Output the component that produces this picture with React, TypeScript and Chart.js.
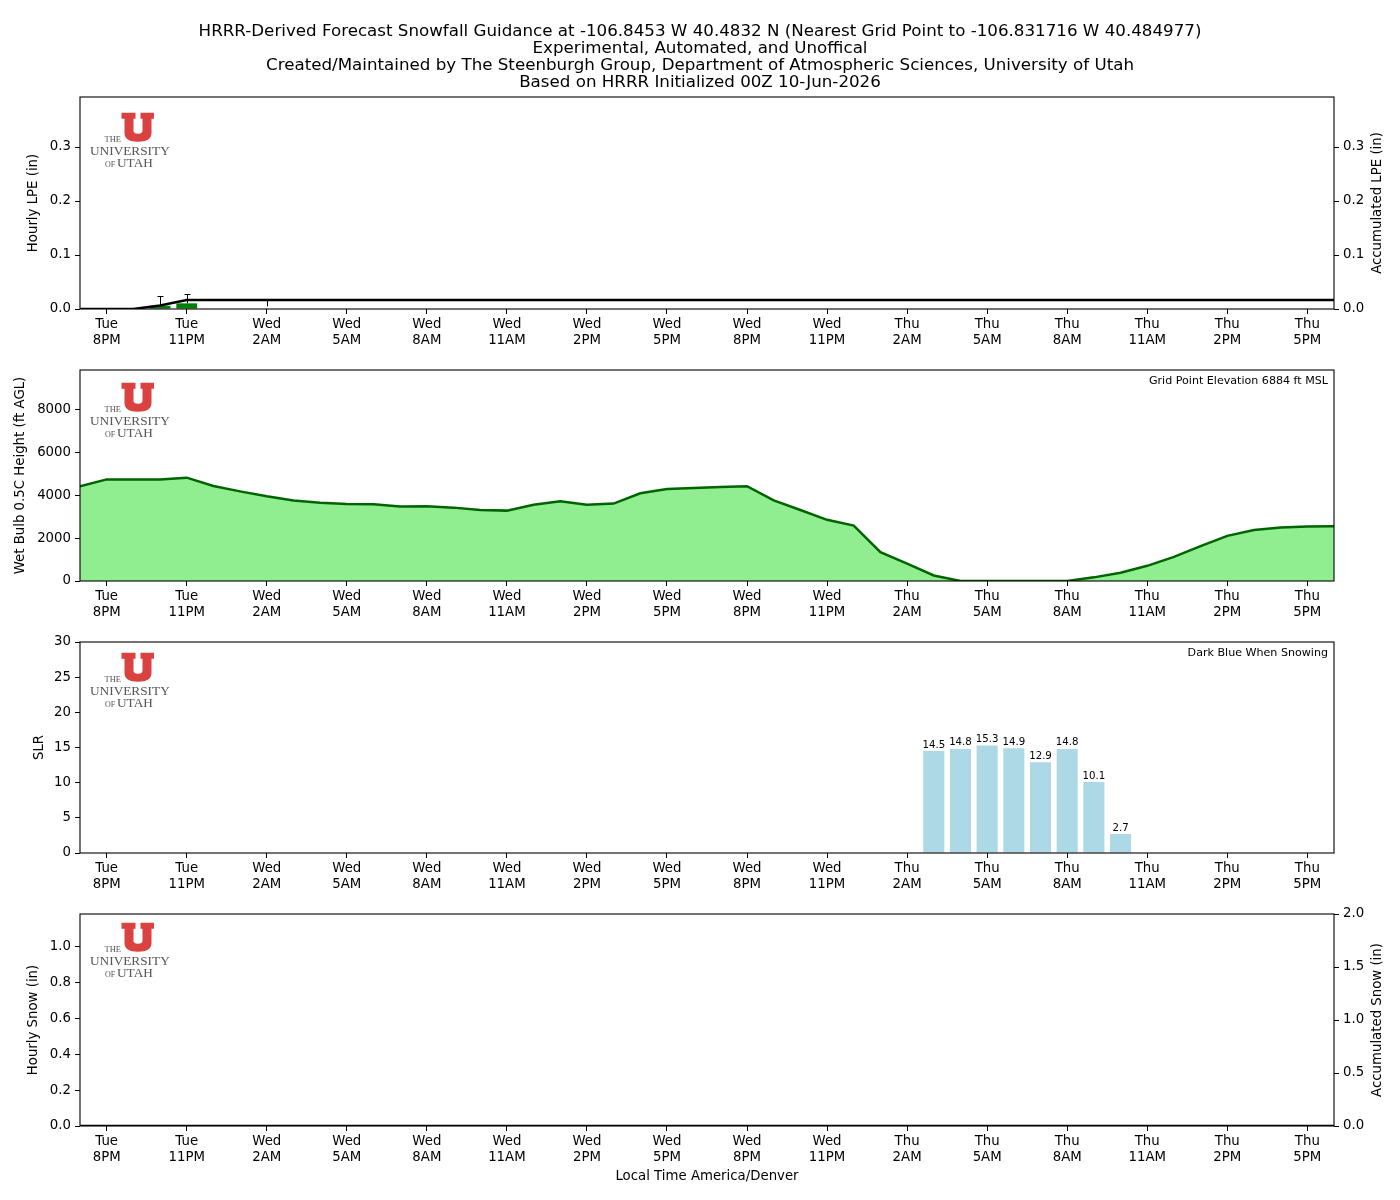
import React, { useEffect, useRef } from 'react';
import { Chart, registerables } from 'chart.js';

Chart.register(...registerables);
Chart.defaults.font.family = "'DejaVu Sans', sans-serif";
Chart.defaults.color = '#000';

// ---------- DATA ----------
// forecast hours, 0 = Tue 7PM local ... 47 = Thu 6PM local
const HOURS = Array.from({ length: 48 }, (_, i) => i);

const TICK_HOURS = [1, 4, 7, 10, 13, 16, 19, 22, 25, 28, 31, 34, 37, 40, 43, 46];
const TICK_DAYS = ['Tue', 'Tue', 'Wed', 'Wed', 'Wed', 'Wed', 'Wed', 'Wed', 'Wed', 'Wed', 'Thu', 'Thu', 'Thu', 'Thu', 'Thu', 'Thu'];
const TICK_TIMES = ['8PM', '11PM', '2AM', '5AM', '8AM', '11AM', '2PM', '5PM', '8PM', '11PM', '2AM', '5AM', '8AM', '11AM', '2PM', '5PM'];

const TITLE_LINES = [
  'HRRR-Derived Forecast Snowfall Guidance at -106.8453 W 40.4832 N (Nearest Grid Point to -106.831716 W 40.484977)',
  'Experimental, Automated, and Unoffical',
  'Created/Maintained by The Steenburgh Group, Department of Atmospheric Sciences, University of Utah',
  'Based on HRRR Initialized 00Z 10-Jun-2026',
];

const HOURLY_LPE = [
  0, 0, 0, 0.006, 0.0105, 0, 0, 0, 0, 0, 0, 0, 0, 0, 0, 0, 0, 0, 0, 0, 0, 0, 0, 0,
  0, 0, 0, 0, 0, 0, 0, 0, 0, 0, 0, 0, 0, 0, 0, 0, 0, 0, 0, 0, 0, 0, 0, 0,
];
const ACCUM_LPE = [
  0, 0, 0, 0.0065, 0.0165, 0.0165, 0.0165, 0.0165, 0.0165, 0.0165, 0.0165, 0.0165, 0.0165, 0.0165, 0.0165, 0.0165,
  0.0165, 0.0165, 0.0165, 0.0165, 0.0165, 0.0165, 0.0165, 0.0165, 0.0165, 0.0165, 0.0165, 0.0165, 0.0165, 0.0165, 0.0165, 0.0165,
  0.0165, 0.0165, 0.0165, 0.0165, 0.0165, 0.0165, 0.0165, 0.0165, 0.0165, 0.0165, 0.0165, 0.0165, 0.0165, 0.0165, 0.0165, 0.0165,
];
const LPE_ERR_HOURS = [3, 4, 7];
const LPE_ERR_LOW = [0.006, 0.0105, 0.005];
const LPE_ERR_HIGH = [0.025, 0.028, 0.017];
const LPE_TICKS = [0, 0.1, 0.2, 0.3];

const WETBULB_HEIGHT = [
  4430, 4750, 4750, 4740, 4830, 4440, 4190, 3960, 3760, 3660, 3600, 3590, 3480, 3490, 3430, 3320,
  3290, 3560, 3730, 3560, 3620, 4100, 4300, 4350, 4390, 4430, 3770, 3320, 2860, 2590, 1350, 810,
  260, 0, 0, 0, 0, 0, 170, 390, 710, 1130, 1630, 2110, 2380, 2500, 2550, 2560,
];
const WETBULB_TICKS = [0, 2000, 4000, 6000, 8000];
const ELEVATION_NOTE = 'Grid Point Elevation 6884 ft MSL';

const SLR = [
  null, null, null, null, null, null, null, null, null, null, null, null, null, null, null, null,
  null, null, null, null, null, null, null, null, null, null, null, null, null, null, null, null,
  14.5, 14.8, 15.3, 14.9, 12.9, 14.8, 10.1, 2.7, null, null, null, null, null, null, null, null,
];
const SLR_TICKS = [0, 5, 10, 15, 20, 25, 30];
const SLR_NOTE = 'Dark Blue When Snowing';

const HOURLY_SNOW = [
  0, 0, 0, 0, 0, 0, 0, 0, 0, 0, 0, 0, 0, 0, 0, 0, 0, 0, 0, 0, 0, 0, 0, 0,
  0, 0, 0, 0, 0, 0, 0, 0, 0, 0, 0, 0, 0, 0, 0, 0, 0, 0, 0, 0, 0, 0, 0, 0,
];
const ACCUM_SNOW = [
  0, 0, 0, 0, 0, 0, 0, 0, 0, 0, 0, 0, 0, 0, 0, 0, 0, 0, 0, 0, 0, 0, 0, 0,
  0, 0, 0, 0, 0, 0, 0, 0, 0, 0, 0, 0, 0, 0, 0, 0, 0, 0, 0, 0, 0, 0, 0, 0,
];
const SNOW_TICKS = [0, 0.2, 0.4, 0.6, 0.8, 1.0];
const ACCUM_SNOW_TICKS = [0, 0.5, 1.0, 1.5, 2.0];

// ---------- STYLE HELPERS ----------
const FONT = 13.3;
const pts = (vals: (number | null)[]) => HOURS.map((h) => ({ x: h, y: vals[h] }));

function xScale(bottomHeight: number, title?: string) {
  return {
    type: 'linear',
    min: 0,
    max: 47,
    offset: false,
    afterBuildTicks: (s: any) => {
      s.ticks = TICK_HOURS.map((v) => ({ value: v }));
    },
    afterFit: (s: any) => {
      s.height = bottomHeight;
      s.paddingLeft = 0;
      s.paddingRight = 0;
    },
    ticks: {
      autoSkip: false,
      maxRotation: 0,
      minRotation: 0,
      padding: 3,
      font: { size: FONT, lineHeight: 1.2 },
      callback: (v: number) => {
        const i = TICK_HOURS.indexOf(v);
        return i < 0 ? '' : [TICK_DAYS[i], TICK_TIMES[i]];
      },
    },
    grid: { offset: false, drawOnChartArea: false, drawTicks: true, tickLength: 5, color: '#000', lineWidth: 1 },
    border: { display: false },
    title: title
      ? { display: true, text: title, font: { size: FONT, lineHeight: 1.2 }, padding: { top: 0, bottom: 15 } }
      : { display: false },
  };
}

function yScale(opts: {
  position: 'left' | 'right';
  max: number;
  ticks: number[];
  fmt: (v: number) => string;
  title?: string;
  titlePad?: number;
}) {
  return {
    type: 'linear',
    position: opts.position,
    min: 0,
    max: opts.max,
    afterBuildTicks: (s: any) => {
      s.ticks = opts.ticks.map((v) => ({ value: v }));
    },
    afterFit: (s: any) => {
      s.width = opts.position === 'left' ? 80 : 66;
      s.paddingTop = 0;
      s.paddingBottom = 0;
    },
    ticks: {
      padding: 4,
      font: { size: FONT },
      callback: (v: number) => opts.fmt(v),
    },
    grid: { drawOnChartArea: false, drawTicks: true, tickLength: 5, color: '#000', lineWidth: 1 },
    border: { display: false },
    title: opts.title
      ? { display: true, text: opts.title, font: { size: FONT, lineHeight: 1.2 }, padding: { top: opts.titlePad ?? 20 } }
      : { display: false },
  };
}

// ---------- PLUGINS ----------
const framePlugin = {
  id: 'frame',
  afterDraw(chart: any) {
    const { ctx, chartArea: a } = chart;
    ctx.save();
    ctx.strokeStyle = '#000';
    ctx.lineWidth = 1.1;
    ctx.strokeRect(a.left, a.top, a.right - a.left, a.bottom - a.top);
    ctx.restore();
  },
};

function rightTitlePlugin(text: string) {
  return {
    id: 'rightTitle',
    afterDraw(chart: any) {
      const { ctx, chartArea: a } = chart;
      ctx.save();
      ctx.translate(1378, (a.top + a.bottom) / 2);
      ctx.rotate(-Math.PI / 2);
      ctx.font = `${FONT}px 'DejaVu Sans'`;
      ctx.fillStyle = '#000';
      ctx.textAlign = 'center';
      ctx.textBaseline = 'middle';
      ctx.fillText(text, 0, 0);
      ctx.restore();
    },
  };
}

function notePlugin(text: string) {
  return {
    id: 'note',
    afterDraw(chart: any) {
      const { ctx, chartArea: a } = chart;
      ctx.save();
      ctx.font = "11.1px 'DejaVu Sans'";
      ctx.fillStyle = '#000';
      ctx.textAlign = 'right';
      ctx.textBaseline = 'middle';
      ctx.fillText(text, a.right - 6, a.top + 11);
      ctx.restore();
    },
  };
}

function logoPlugin(dy: number) {
  return {
    id: 'logo',
    afterDraw(chart: any) {
      const { ctx, chartArea: a } = chart;
      const ox = a.left + 41.5;
      const oy = a.top + dy;
      ctx.save();
      ctx.fillStyle = '#DA4141';
      ctx.beginPath();
      ctx.moveTo(ox, oy);
      ctx.lineTo(ox + 14, oy);
      ctx.lineTo(ox + 14, oy + 6);
      ctx.lineTo(ox + 12, oy + 6);
      ctx.lineTo(ox + 12, oy + 18);
      ctx.quadraticCurveTo(ox + 12, oy + 21, ox + 16.5, oy + 21);
      ctx.quadraticCurveTo(ox + 21, oy + 21, ox + 21, oy + 18);
      ctx.lineTo(ox + 21, oy + 6);
      ctx.lineTo(ox + 19, oy + 6);
      ctx.lineTo(ox + 19, oy);
      ctx.lineTo(ox + 32.5, oy);
      ctx.lineTo(ox + 32.5, oy + 6);
      ctx.lineTo(ox + 30, oy + 6);
      ctx.lineTo(ox + 30, oy + 20);
      ctx.quadraticCurveTo(ox + 30, oy + 29, ox + 16.5, oy + 29);
      ctx.quadraticCurveTo(ox + 3, oy + 29, ox + 3, oy + 20);
      ctx.lineTo(ox + 3, oy + 6);
      ctx.lineTo(ox, oy + 6);
      ctx.closePath();
      ctx.fill();
      ctx.fillStyle = '#555';
      ctx.textBaseline = 'alphabetic';
      ctx.textAlign = 'left';
      ctx.font = "8.5px 'Liberation Serif'";
      ctx.fillText('THE', a.left + 24.5, oy + 29);
      ctx.font = "13.3px 'Liberation Serif'";
      ctx.fillText('UNIVERSITY', a.left + 10, oy + 42.3);
      ctx.font = "8px 'Liberation Serif'";
      ctx.fillText('OF', a.left + 25, oy + 54.3);
      ctx.font = "13.3px 'Liberation Serif'";
      ctx.fillText('UTAH', a.left + 37, oy + 54.3);
      ctx.restore();
    },
  };
}

const errorBarPlugin = {
  id: 'errorBars',
  afterDatasetsDraw(chart: any) {
    const { ctx } = chart;
    const xs = chart.scales.x;
    const ys = chart.scales.y;
    ctx.save();
    ctx.strokeStyle = '#000';
    ctx.lineWidth = 1;
    LPE_ERR_HOURS.forEach((h, i) => {
      const x = Math.round(xs.getPixelForValue(h)) + 0.5;
      const y1 = ys.getPixelForValue(LPE_ERR_LOW[i]);
      const y2 = Math.round(ys.getPixelForValue(LPE_ERR_HIGH[i])) + 0.5;
      ctx.beginPath();
      ctx.moveTo(x, y1);
      ctx.lineTo(x, y2);
      ctx.moveTo(x - 3, y2);
      ctx.lineTo(x + 3, y2);
      ctx.stroke();
    });
    ctx.restore();
  },
};

const slrLabelPlugin = {
  id: 'slrLabels',
  afterDatasetsDraw(chart: any) {
    const { ctx } = chart;
    const xs = chart.scales.x;
    const ys = chart.scales.y;
    ctx.save();
    ctx.font = "10.2px 'DejaVu Sans'";
    ctx.fillStyle = '#000';
    ctx.textAlign = 'center';
    ctx.textBaseline = 'bottom';
    HOURS.forEach((h) => {
      const v = SLR[h];
      if (v == null) return;
      ctx.fillText(v.toFixed(1), xs.getPixelForValue(h), ys.getPixelForValue(v) - 1);
    });
    ctx.restore();
  },
};

const baseOptions = {
  responsive: false,
  maintainAspectRatio: false,
  animation: false,
  devicePixelRatio: 1,
  events: [],
};

// ---------- CONFIGS ----------
function lpeConfig(): any {
  return {
    type: 'bar',
    data: {
      datasets: [
        {
          type: 'line',
          data: pts(ACCUM_LPE),
          borderColor: '#000',
          borderWidth: 2.5,
          pointRadius: 0,
          yAxisID: 'y1',
          order: 0,
        },
        {
          type: 'bar',
          data: pts(HOURLY_LPE),
          backgroundColor: '#008000',
          barPercentage: 0.78,
          categoryPercentage: 1,
          yAxisID: 'y',
          order: 1,
        },
      ],
    },
    options: {
      ...baseOptions,
      layout: { padding: 0 },
      plugins: {
        legend: { display: false },
        tooltip: { enabled: false },
        title: {
          display: true,
          text: TITLE_LINES,
          color: '#000',
          font: { size: 16.7, weight: 'normal', lineHeight: 17 / 16.7 },
          padding: { top: 23.5, bottom: 5.5 },
        },
      },
      scales: {
        x: xScale(51),
        y: yScale({ position: 'left', max: 0.3926, ticks: LPE_TICKS, fmt: (v) => v.toFixed(1), title: 'Hourly LPE (in)', titlePad: 26 }),
        y1: yScale({ position: 'right', max: 0.3926, ticks: LPE_TICKS, fmt: (v) => v.toFixed(1) }),
      },
    },
    plugins: [errorBarPlugin, framePlugin, rightTitlePlugin('Accumulated LPE (in)'), logoPlugin(15.7)],
  };
}

function wetbulbConfig(): any {
  return {
    type: 'line',
    data: {
      datasets: [
        {
          data: pts(WETBULB_HEIGHT),
          borderColor: '#006400',
          borderWidth: 2.5,
          backgroundColor: '#90EE90',
          fill: 'origin',
          pointRadius: 0,
        },
      ],
    },
    options: {
      ...baseOptions,
      layout: { padding: { top: 10, right: 66, left: 0, bottom: 0 } },
      plugins: { legend: { display: false }, tooltip: { enabled: false } },
      scales: {
        x: xScale(51),
        y: yScale({ position: 'left', max: 9864, ticks: WETBULB_TICKS, fmt: (v) => String(Math.round(v)), title: 'Wet Bulb 0.5C Height (ft AGL)', titlePad: 13 }),
      },
    },
    plugins: [framePlugin, notePlugin(ELEVATION_NOTE), logoPlugin(12.7)],
  };
}

function slrConfig(): any {
  return {
    type: 'bar',
    data: {
      datasets: [
        {
          data: pts(SLR),
          backgroundColor: '#ADD8E6',
          barPercentage: 0.79,
          categoryPercentage: 1,
        },
      ],
    },
    options: {
      ...baseOptions,
      layout: { padding: { top: 10, right: 66, left: 0, bottom: 0 } },
      plugins: { legend: { display: false }, tooltip: { enabled: false } },
      scales: {
        x: xScale(51),
        y: yScale({ position: 'left', max: 30, ticks: SLR_TICKS, fmt: (v) => String(Math.round(v)), title: 'SLR', titlePad: 32 }),
      },
    },
    plugins: [slrLabelPlugin, framePlugin, notePlugin(SLR_NOTE), logoPlugin(10.7)],
  };
}

function snowConfig(): any {
  return {
    type: 'bar',
    data: {
      datasets: [
        {
          type: 'line',
          data: pts(ACCUM_SNOW),
          borderColor: '#000',
          borderWidth: 2.5,
          pointRadius: 0,
          yAxisID: 'y1',
          order: 0,
        },
        {
          type: 'bar',
          data: pts(HOURLY_SNOW),
          backgroundColor: '#00008B',
          barPercentage: 0.78,
          categoryPercentage: 1,
          yAxisID: 'y',
          order: 1,
        },
      ],
    },
    options: {
      ...baseOptions,
      layout: { padding: { top: 10, right: 0, left: 0, bottom: 0 } },
      plugins: { legend: { display: false }, tooltip: { enabled: false } },
      scales: {
        x: xScale(74, 'Local Time America/Denver'),
        y: yScale({ position: 'left', max: 1.184, ticks: SNOW_TICKS, fmt: (v) => v.toFixed(1), title: 'Hourly Snow (in)', titlePad: 26 }),
        y1: yScale({ position: 'right', max: 2.0, ticks: ACCUM_SNOW_TICKS, fmt: (v) => v.toFixed(1) }),
      },
    },
    plugins: [framePlugin, rightTitlePlugin('Accumulated Snow (in)'), logoPlugin(8.7)],
  };
}

// ---------- COMPONENTS ----------
function Panel({ top, height, build }: { top: number; height: number; build: () => any }) {
  const ref = useRef<HTMLCanvasElement | null>(null);
  useEffect(() => {
    if (!ref.current) return;
    const chart = new Chart(ref.current, build());
    return () => chart.destroy();
  }, []);
  return (
    <canvas
      ref={ref}
      width={1400}
      height={height}
      style={{ position: 'absolute', left: 0, top, width: 1400, height, display: 'block' }}
    />
  );
}

export default function App() {
  return (
    <div style={{ position: 'absolute', left: 0, top: 0, width: 1400, height: 1200, background: '#fff' }}>
      <Panel top={0} height={360} build={lpeConfig} />
      <Panel top={360} height={272} build={wetbulbConfig} />
      <Panel top={632} height={272} build={slrConfig} />
      <Panel top={904} height={296} build={snowConfig} />
    </div>
  );
}
